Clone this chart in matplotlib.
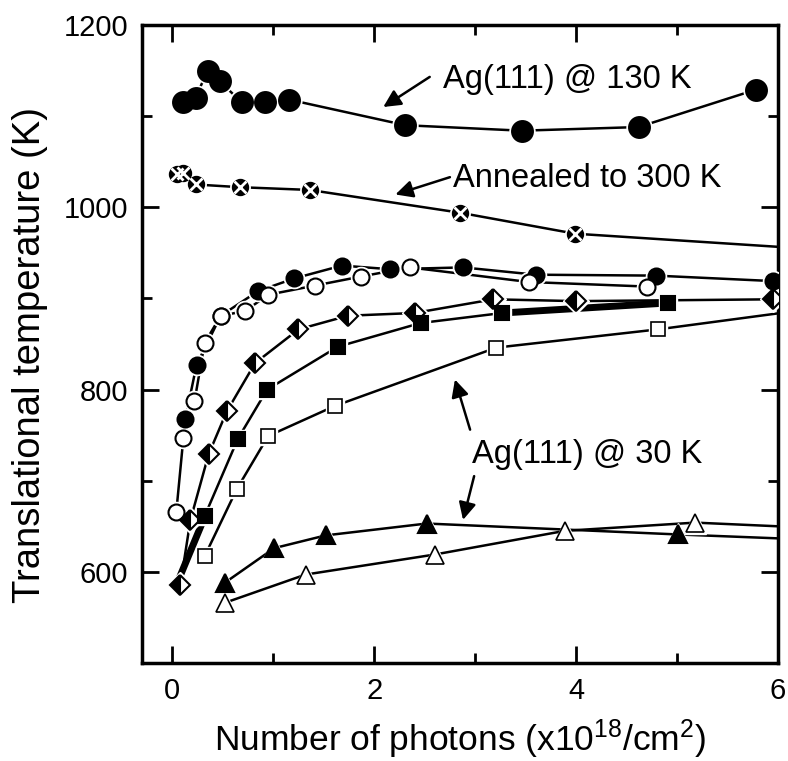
import numpy as np
import matplotlib
matplotlib.use("Agg")
import matplotlib.pyplot as plt

plt.rcParams["font.family"] = ["Liberation Sans", "DejaVu Sans"]
plt.rcParams["mathtext.fontset"] = "custom"
plt.rcParams["mathtext.rm"] = "Liberation Sans"
plt.rcParams["mathtext.default"] = "regular"

# Ag(111) @ 130 K
x_130 = [0.11, 0.23, 0.35, 0.47, 0.69, 0.92, 1.16, 2.31, 3.46, 4.62, 5.78]
t_130 = [1115, 1120, 1150, 1138, 1115, 1115, 1118, 1090, 1084, 1088, 1129]

# annealed to 300 K (last point lies past the axis end)
x_ann = [0.05, 0.11, 0.23, 0.67, 1.36, 2.85, 3.99, 6.5]
t_ann = [1036, 1038, 1025, 1022, 1019, 994, 971, 953]

# Ag(111) @ 30 K, filled circles
x_fc = [0.13, 0.24, 0.48, 0.85, 1.21, 1.68, 2.16, 2.88, 3.60, 4.79, 5.95]
t_fc = [768, 827, 881, 908, 922, 936, 932, 934, 926, 925, 919]

# open circles
x_oc = [0.04, 0.11, 0.22, 0.32, 0.48, 0.72, 0.95, 1.41, 1.87, 2.35, 3.53, 4.70]
t_oc = [666, 747, 787, 851, 881, 886, 904, 914, 924, 934, 918, 913]

# half-filled diamonds
x_hd = [0.08, 0.18, 0.36, 0.54, 0.82, 1.25, 1.74, 2.40, 3.18, 4.00, 5.95]
t_hd = [586, 657, 729, 776, 829, 866, 881, 884, 899, 897, 899]

# filled squares
x_fs = [0.32, 0.65, 0.94, 1.64, 2.46, 3.27, 4.91]
t_fs = [661, 746, 800, 847, 873, 884, 895]

# open squares (last point lies past the axis end)
x_os = [0.32, 0.64, 0.95, 1.61, 3.21, 4.81, 6.3]
t_os = [617, 691, 749, 782, 846, 866, 888]

# filled triangles
x_ft = [0.52, 1.01, 1.52, 2.52, 5.01, 6.4]
t_ft = [588, 626, 640, 653, 641, 635]

# open triangles
x_ot = [0.52, 1.32, 2.60, 3.89, 5.18, 6.4]
t_ot = [566, 597, 619, 645, 654, 648]

# thick segments
x_thick = [0.05, 0.32, np.nan, 3.27, 4.91]
t_thick = [588, 660, np.nan, 884, 895]

fig = plt.figure(figsize=(7.88, 7.61), dpi=100)
ax = fig.add_axes([0.1802, 0.1288, 0.8071, 0.8384])


def series(x, y, marker, ms, face="black", alt="white", fill="full", mew=1.5):
    ax.plot(x, y, "-", color="black", lw=1.8, zorder=2)
    # white halo so the lines stop short of the symbols
    ax.plot(x, y, linestyle="none", marker=marker, ms=ms + 3,
            mfc="white", mec="white", mew=1, zorder=3)
    ax.plot(x, y, linestyle="none", marker=marker, ms=ms, mfc=face,
            mec="black", mew=mew, fillstyle=fill, markerfacecoloralt=alt,
            zorder=4)


ax.plot(x_thick, t_thick, "-", color="black", lw=5, zorder=2.5,
        solid_capstyle="butt")

series(x_130, t_130, "o", 15)
series(x_ann, t_ann, "o", 11)
ax.plot(x_ann, t_ann, linestyle="none", marker="x", ms=8, mec="white",
        mew=2, zorder=5)
series(x_fc, t_fc, "o", 11.5)
series(x_oc, t_oc, "o", 11.5, face="white")
series(x_hd, t_hd, "D", 10, fill="left")
series(x_fs, t_fs, "s", 10.5)
series(x_os, t_os, "s", 10, face="white", mew=1.2)
series(x_ft, t_ft, "^", 13)
series(x_ot, t_ot, "^", 13, face="white", mew=1.2)

arrow = dict(arrowstyle="-|>", color="black", lw=1.8, mutation_scale=26,
             shrinkA=0, shrinkB=0)
ax.annotate("", xy=(2.09, 1110), xytext=(2.55, 1143), arrowprops=arrow)
ax.text(2.68, 1131, "Ag(111) @ 130 K", fontsize=23.5, va="baseline")
ax.annotate("", xy=(2.21, 1014), xytext=(2.75, 1033), arrowprops=arrow)
ax.text(2.78, 1022, "Annealed to 300 K", fontsize=23.5, va="baseline")
ax.annotate("", xy=(2.80, 811), xytext=(2.95, 756), arrowprops=arrow)
ax.annotate("", xy=(2.88, 657), xytext=(2.99, 705), arrowprops=arrow)
ax.text(2.97, 719, "Ag(111) @ 30 K", fontsize=23.5, va="baseline")

ax.set_xlim(-0.3, 6)
ax.set_ylim(500, 1200)
ax.set_xticks([0, 2, 4, 6])
ax.set_xticks([1, 3, 5], minor=True)
ax.set_yticks([600, 800, 1000, 1200])
ax.set_yticks([700, 900, 1100], minor=True)
ax.tick_params(which="both", direction="in", top=True, right=True,
               labelsize=21, width=2)
ax.tick_params(which="major", length=12, pad=10)
ax.tick_params(which="minor", length=7)
for sp in ax.spines.values():
    sp.set_linewidth(2.5)

ax.set_xlabel("Number of photons (x10$^{18}$/cm$^{2}$)", fontsize=25.5,
              labelpad=9)
ax.set_ylabel("Translational temperature (K)", fontsize=27.5, labelpad=10)
ax.yaxis.set_label_coords(-0.148, 0.483)

fig.savefig("out.png", dpi=100)
